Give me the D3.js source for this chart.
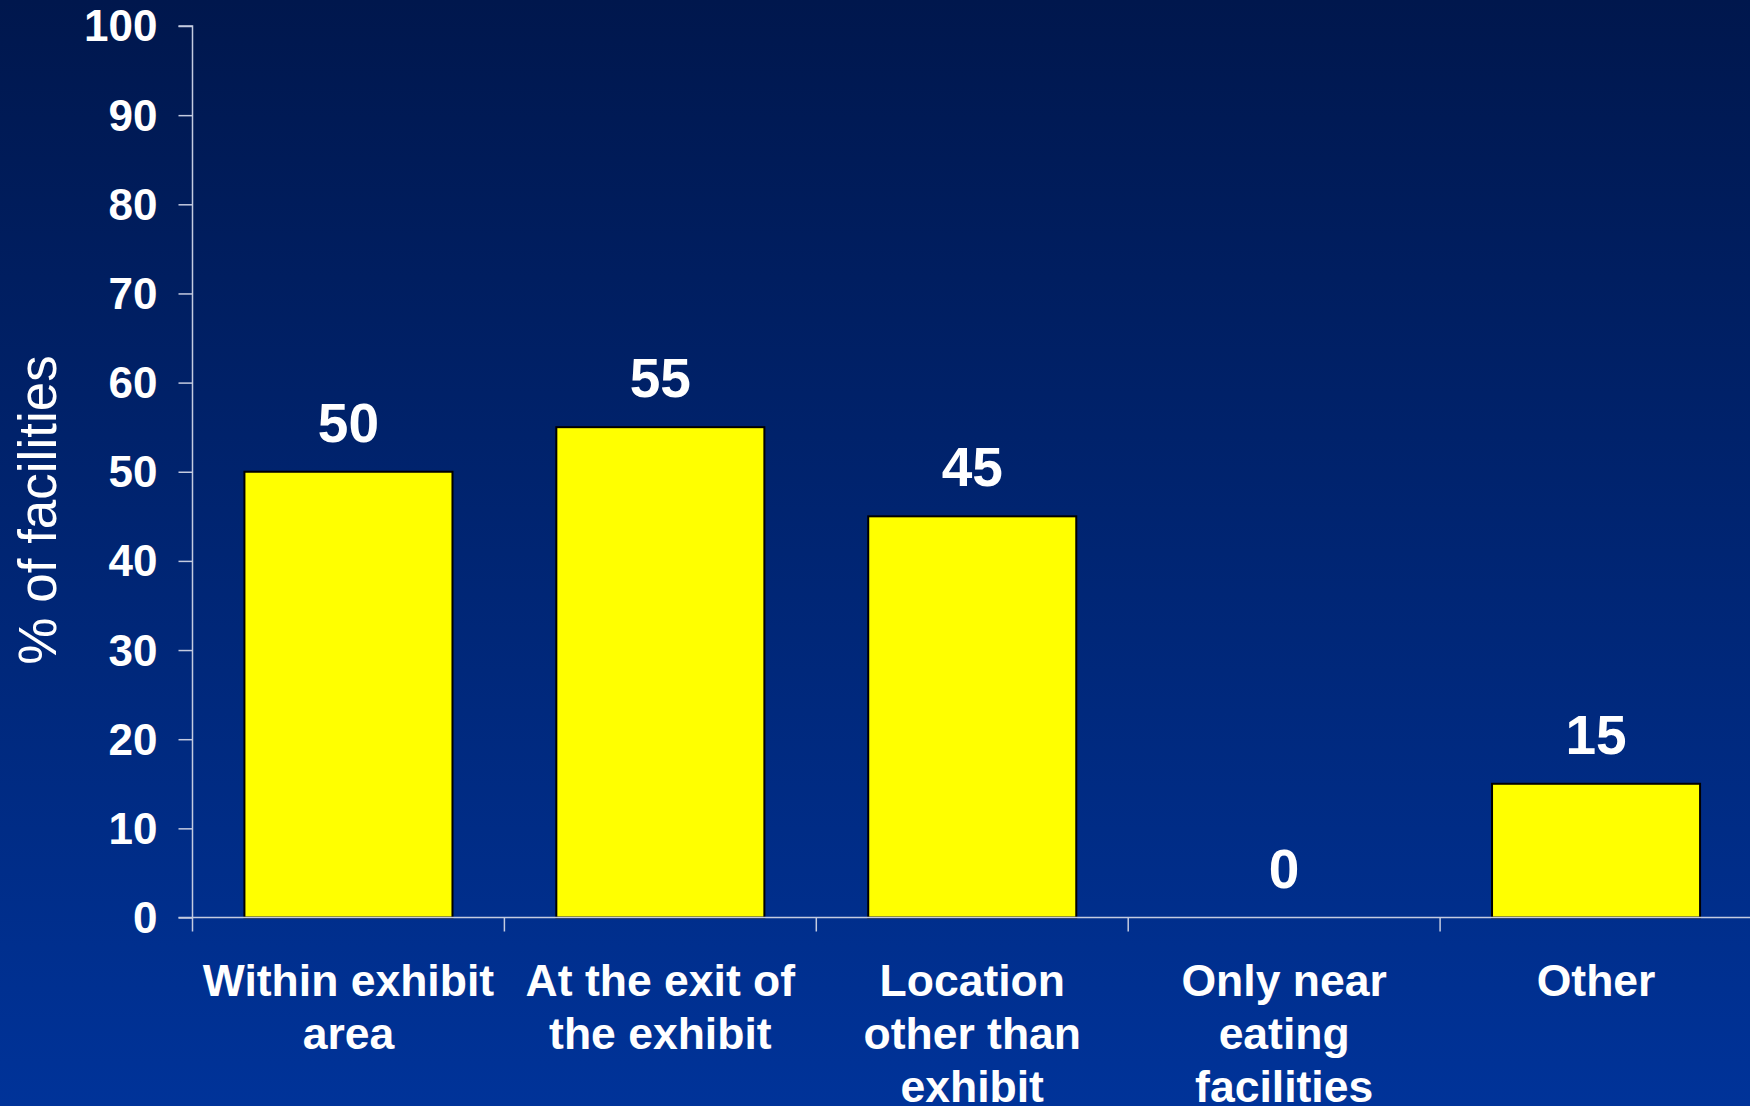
<!DOCTYPE html>
<html><head><meta charset="utf-8">
<script src="https://cdn.jsdelivr.net/npm/d3@7"></script>
<style>html,body{margin:0;padding:0;overflow:hidden;background:#002a80}</style>
</head><body>
<script>
const categories = ["Within exhibit area", "At the exit of the exhibit", "Location other than exhibit", "Only near eating facilities", "Other"];
const categoryLines = [["Within exhibit", "area"], ["At the exit of", "the exhibit"], ["Location", "other than", "exhibit"], ["Only near", "eating", "facilities"], ["Other"]];
const values = [50, 55, 45, 0, 15];
const yTicks = [0, 10, 20, 30, 40, 50, 60, 70, 80, 90, 100];
const yTitle = "% of facilities";

const W = 1750, H = 1106;
const svg = d3.select("body").append("svg").attr("width", W).attr("height", H);
const defs = svg.append("defs");
const grad = defs.append("linearGradient").attr("id", "bg").attr("x1", 0).attr("y1", 0).attr("x2", 0).attr("y2", 1);
grad.append("stop").attr("offset", "0%").attr("stop-color", "#00174d");
grad.append("stop").attr("offset", "100%").attr("stop-color", "#003399");
svg.append("rect").attr("width", W).attr("height", H).attr("fill", "url(#bg)");

const font = "'Liberation Sans', Arial, sans-serif";
const x0 = 192.5, x1 = 1752, yBottom = 917.5, yTop = 26;
const x = d3.scaleBand().domain(categories).range([x0, x1]).paddingInner(0.333).paddingOuter(0.1665);
const y = d3.scaleLinear().domain([0, 100]).range([yBottom, yTop]);
const axisColor = "#c4cbe0";

// y axis
const yAxis = svg.append("g").attr("transform", `translate(${x0},0)`)
  .call(d3.axisLeft(y).tickValues(yTicks).tickSize(14).tickPadding(21).tickFormat(d3.format("d")));
yAxis.select(".domain").attr("stroke", axisColor).attr("stroke-width", 1.5).attr("d", `M-14,${yTop}H0V${yBottom}`);
yAxis.selectAll(".tick line").attr("stroke", axisColor).attr("stroke-width", 1.5);
yAxis.selectAll(".tick text").attr("fill", "#fff").attr("font-family", font).attr("font-weight", "bold")
  .attr("font-size", 44).attr("dy", "0.34em");

// bars
svg.append("g").selectAll("rect").data(values).join("rect")
  .attr("x", (d, i) => x(categories[i]))
  .attr("y", d => y(d))
  .attr("width", x.bandwidth())
  .attr("height", d => y(0) - y(d))
  .attr("fill", "#ffff00").attr("stroke", "#000").attr("stroke-width", 2)
  .style("display", d => d > 0 ? null : "none");

// x axis line and ticks at band boundaries
const xg = svg.append("g");
xg.append("line").attr("x1", x0 - 14).attr("x2", x1).attr("y1", yBottom).attr("y2", yBottom)
  .attr("stroke", axisColor).attr("stroke-width", 1.5);
const boundaries = categories.map(c => x(c) - (x.step() - x.bandwidth()) / 2);
xg.selectAll("line.tk").data(boundaries).join("line").attr("class", "tk")
  .attr("x1", d => d).attr("x2", d => d).attr("y1", yBottom).attr("y2", yBottom + 14)
  .attr("stroke", axisColor).attr("stroke-width", 1.5);

// value labels
svg.append("g").selectAll("text").data(values).join("text")
  .attr("x", (d, i) => x(categories[i]) + x.bandwidth() / 2)
  .attr("y", d => y(d) - 30)
  .attr("text-anchor", "middle").attr("fill", "#fff").attr("font-family", font)
  .attr("font-weight", "bold").attr("font-size", 55).text(d => d);

// category labels
const cl = svg.append("g").selectAll("text").data(categoryLines).join("text")
  .attr("text-anchor", "middle").attr("fill", "#fff").attr("font-family", font)
  .attr("font-weight", "bold").attr("font-size", 44.5);
cl.each(function(lines, i) {
  const cx = x(categories[i]) + x.bandwidth() / 2;
  d3.select(this).selectAll("tspan").data(lines).join("tspan")
    .attr("x", cx).attr("y", (d, j) => 996 + j * 53).text(d => d);
});

// y title
svg.append("text").attr("transform", `translate(56,510) rotate(-90)`)
  .attr("text-anchor", "middle").attr("fill", "#fff").attr("font-family", font)
  .attr("font-size", 53).text(yTitle);
</script>
</body></html>
